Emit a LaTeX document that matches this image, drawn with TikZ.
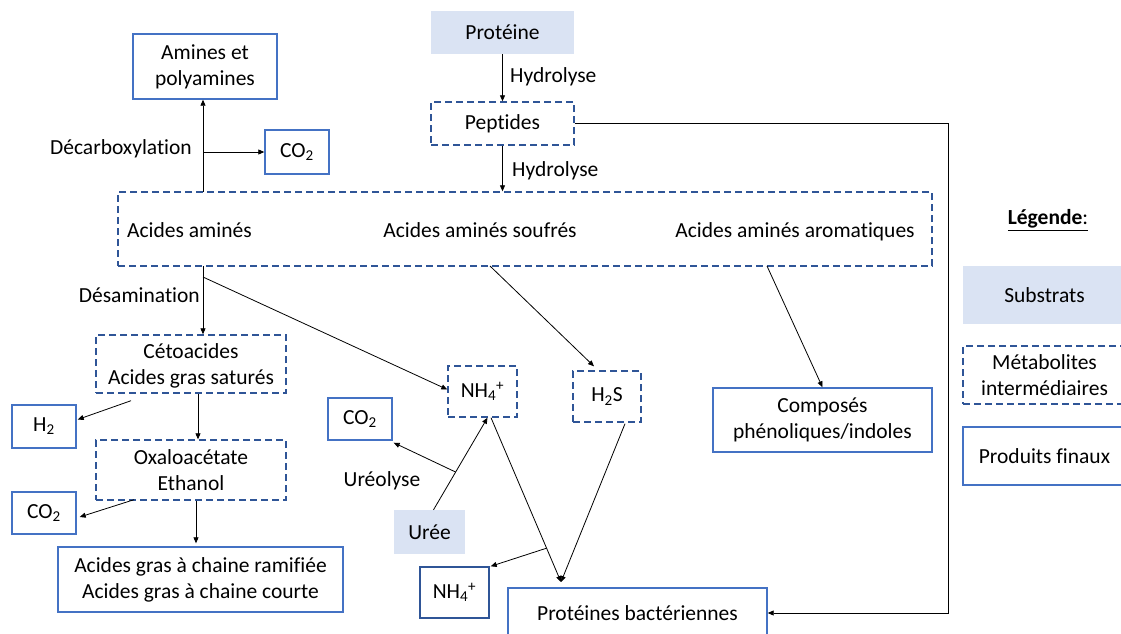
\documentclass[tikz,border=0pt]{standalone}
\usepackage{fontspec}
\setmainfont{Carlito}[Ligatures=NoCommon, RawFeature={-liga;-dlig}]
\usetikzlibrary{arrows.meta,calc}
\definecolor{bfill}{HTML}{DAE3F3}
\definecolor{bsolid}{HTML}{4472C4}
\definecolor{bdash}{HTML}{2F5597}
\definecolor{bdark}{HTML}{2F5597}
\tikzset{
  base/.style={inner sep=0pt, align=center},
  subs/.style={base, fill=bfill},
  mid/.style={base, draw=bdash, line width=1.4pt, dash pattern=on 7pt off 4pt},
  fin/.style={base, draw=bsolid, line width=1.4pt},
  findark/.style={base, draw=bdark, line width=1.4pt},
  lbl/.style={inner sep=0pt},
  arr/.style={draw=black, line width=0.8pt, -{Triangle[length=6pt,width=5pt]}},
  ln/.style={draw=black, line width=0.8pt}
}
\begin{document}
\begin{tikzpicture}[x=1pt,y=-1pt,font=\fontsize{21.5}{26}\selectfont]
\useasboundingbox (0,0) rectangle (1121,633);
\begin{scope}
\clip (0,0) rectangle (1121,633);
% nodes
\node[subs, minimum width=143pt, minimum height=43pt] (prot) at (502.5,32.5) {Protéine};
\node[mid, minimum width=143pt, minimum height=43pt] (pept) at (502.5,123.5) {Peptides};
\node[fin, minimum width=144pt, minimum height=65pt] (amines) at (205,66.5) {Amines et\\polyamines};
\node[fin, minimum width=64pt, minimum height=44pt] (co2a) at (297,152) {CO\textsubscript{2}};
\node[mid, minimum width=814pt, minimum height=74pt] (aa) at (525,229) {};
\node[lbl, anchor=base west] (aa1) at (127,237) {Acides aminés};
\node[lbl, anchor=base] (aa2t) at (480,237) {Acides aminés soufrés};
\node[lbl, anchor=base] (aa3t) at (795,237) {Acides aminés aromatiques};
\node[mid, minimum width=190pt, minimum height=58pt] (ceto) at (191,364) {\strut Cétoacides\\Acides gras saturés};
\node[fin, minimum width=64pt, minimum height=43pt] (h2) at (44,426.5) {H\textsubscript{2}};
\node[mid, minimum width=190pt, minimum height=60pt] (oxalo) at (191,470) {Oxaloacétate\\Ethanol};
\node[fin, minimum width=64pt, minimum height=42pt] (co2b) at (44,513) {CO\textsubscript{2}};
\node[fin, minimum width=285pt, minimum height=65pt] (agr) at (200.5,579.5) {Acides gras à chaine ramifiée\\Acides gras à chaine courte};
\node[mid, minimum width=69pt, minimum height=51pt] (nh4a) at (482.5,391.5) {NH\textsubscript{4}\textsuperscript{+}};
\node[mid, minimum width=68pt, minimum height=51pt] (h2s) at (607,396.5) {H\textsubscript{2}S};
\node[fin, minimum width=64pt, minimum height=42pt] (co2c) at (360,419) {CO\textsubscript{2}};
\node[subs, minimum width=71pt, minimum height=44pt] (uree) at (429.5,532) {Urée};
\node[findark, minimum width=69pt, minimum height=51pt] (nh4b) at (454.5,592.5) {NH\textsubscript{4}\textsuperscript{+}};
\node[fin, minimum width=259pt, minimum height=50pt] (prob) at (637.5,613) {Protéines bactériennes};
\node[fin, minimum width=219pt, minimum height=64pt] (comp) at (822.5,420) {Composés\\phénoliques/indoles};
% legend
\node[lbl] (legt) at (1048,220) {\underline{\textbf{Légende}:}};
\node[subs, minimum width=163pt, minimum height=58pt] (leg1) at (1044.5,295) {Substrats};
\node[mid, minimum width=163pt, minimum height=58pt] (leg2) at (1044.5,375) {Métabolites\\intermédiaires};
\node[fin, minimum width=163pt, minimum height=58pt] (leg3) at (1044.5,456) {Produits finaux};
% labels
\node[lbl, anchor=west] (hy1) at (510,77) {Hydrolyse};
\node[lbl, anchor=west] (hy2) at (512,171) {Hydrolyse};
\node[lbl, anchor=east] (dec) at (192,149) {Décarboxylation};
\node[lbl, anchor=east] (des) at (200,295) {Désamination};
\node[lbl] (ureo) at (382,481) {Uréolyse};
% coordinates
\coordinate (dca) at (203,192);
\coordinate (dcb) at (203,152);
\coordinate (dsa) at (203,266);
\coordinate (dsb) at (203,277);
\coordinate (aas) at (490,266);
\coordinate (aar) at (767,266);
\coordinate (corner) at (948,123.5);
\coordinate (pbt) at (561,582);
% connectors
\draw[arr] (prot.south) -- (pept.north);
\draw[arr] (pept.south) -- (pept.south |- aa.north);
\draw[arr] (dca) -- (dca |- amines.south);
\draw[arr] (dcb) -- (dcb -| co2a.west);
\draw[arr] (dsa) -- (dsa |- ceto.north);
\draw[arr] (dsb) -- ($(nh4a.west)+(0,-2)$);
\draw[arr] (aas) -- ($(h2s.north)+(-13,-4)$);
\draw[arr] (aar) -- (comp.north);
\draw[arr] (pept.east) -- (corner) |- (prob.east);
\draw[arr] ($(ceto.south)+(-60,7)$) -- ($(h2.east)+(1,-7)$);
\draw[arr] ($(ceto.south)+(7,0)$) -- ($(oxalo.north)+(7,0)$);
\draw[arr] ($(oxalo.south)+(-57,-1)$) -- ($(co2b.east)+(3,4)$);
\draw[arr] ($(oxalo.south)+(5,0)$) -- ($(agr.north)+(-4.5,-3)$);
% ureolysis
\coordinate (ua) at ($(uree.north)+(4,0)$);
\coordinate (ub) at ($(nh4a.south)+(5,0)$);
\draw[arr] (ua) -- (ub);
\path (ua) -- (ub) coordinate[pos=0.41] (ubr);
\draw[arr] (ubr) -- ($(co2c.south east)+(1,2)$);
% to bacterial proteins
\coordinate (na) at ($(nh4a.south)+(8.5,0)$);
\draw[arr] (na) -- (pbt);
\path (na) -- (pbt) coordinate[pos=0.794] (nbr);
\draw[arr] (nbr) -- ($(nh4b.north east)+(1,0)$);
\draw[arr] ($(h2s.south)+(18,1)$) -- (pbt);
\end{scope}
\end{tikzpicture}
\end{document}
